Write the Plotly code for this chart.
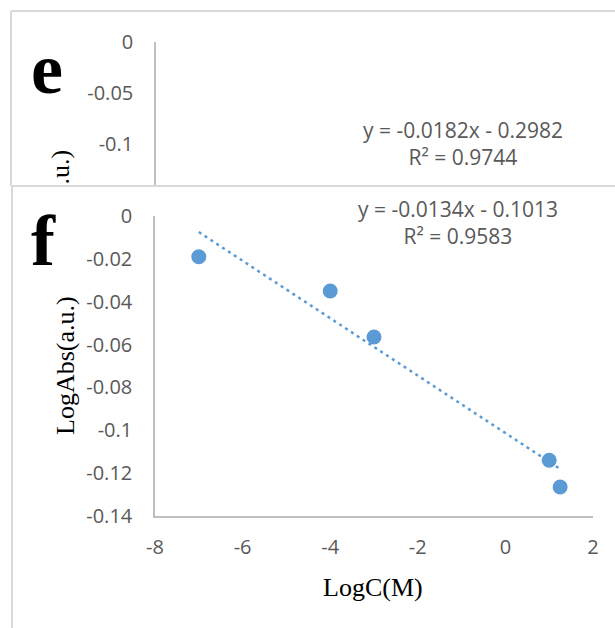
import plotly.graph_objects as go

W, H = 615, 628

# Measured data (panel f)
log_c = [-7, -4, -3, 1, 1.25]
log_abs = [-0.019, -0.035, -0.0565, -0.114, -0.1265]

# Linear fit reported for each panel
fit_f = {"slope": -0.0134, "intercept": -0.1013, "r2": 0.9583}
fit_e = {"slope": -0.0182, "intercept": -0.2982, "r2": 0.9744}

x_ticks = [-8, -6, -4, -2, 0, 2]
y_ticks_f = [0, -0.02, -0.04, -0.06, -0.08, -0.1, -0.12, -0.14]
y_ticks_e = [0, -0.05, -0.1]


def px(x):
    return x / W


def py(y):
    return 1 - y / H


trend_x = [min(log_c), max(log_c)]
trend_y = [fit_f["slope"] * v + fit_f["intercept"] for v in trend_x]

blue = "#5B9BD5"
axis_gray = "#BFBFBF"
frame_gray = "#D9D9D9"
tick_font = dict(family="Open Sans", size=20, color="#595959")
serif = "Liberation Serif"
title_font = dict(family=serif, size=26, color="black")

fig = go.Figure()

fig.add_trace(go.Scatter(
    x=trend_x, y=trend_y, mode="lines",
    line=dict(color=blue, width=2.5, dash="3px,4px"),
    showlegend=False, hoverinfo="skip",
))
fig.add_trace(go.Scatter(
    x=log_c, y=log_abs, mode="markers",
    marker=dict(color=blue, size=15),
    showlegend=False,
))
# empty trace so the panel e axes get drawn
fig.add_trace(go.Scatter(x=[], y=[], xaxis="x2", yaxis="y2", showlegend=False))

fig.update_layout(
    template="none",
    width=W, height=H,
    margin=dict(l=0, r=0, t=0, b=0, autoexpand=False),
    paper_bgcolor="white", plot_bgcolor="rgba(0,0,0,0)",
    showlegend=False,
    xaxis=dict(
        domain=[px(155), px(593)], range=[-8, 2], automargin=False,
        tickvals=x_ticks, ticktext=[str(v) for v in x_ticks],
        showgrid=False, zeroline=False, showline=True,
        linecolor=axis_gray, linewidth=2, ticks="",
        tickfont=tick_font, ticklabelstandoff=12, anchor="y",
    ),
    yaxis=dict(
        domain=[py(516), py(216)], range=[-0.14, 0], automargin=False,
        tickvals=y_ticks_f, ticktext=[f"{v:g}" for v in y_ticks_f],
        showgrid=False, zeroline=False, showline=True,
        linecolor=axis_gray, linewidth=1.5, ticks="",
        tickfont=tick_font, ticklabelstandoff=17, anchor="x",
    ),
    # partially visible panel e above
    xaxis2=dict(domain=[px(156), px(615)], range=[0, 1], visible=False,
                anchor="y2", automargin=False),
    yaxis2=dict(
        domain=[py(185), py(42)], range=[-0.1405, 0], automargin=False,
        tickvals=y_ticks_e, ticktext=[f"{v:g}" for v in y_ticks_e],
        showgrid=False, zeroline=False, showline=True,
        linecolor=axis_gray, linewidth=1.5, ticks="",
        tickfont=tick_font, ticklabelstandoff=17, anchor="x2",
    ),
)

# panel frames
frame = dict(type="line", xref="paper", yref="paper", line=dict(color=frame_gray, width=2))
fig.add_shape(**frame, x0=px(11), x1=1, y0=py(11), y1=py(11))
fig.add_shape(**frame, x0=px(11), x1=px(11), y0=py(11), y1=py(186))
fig.add_shape(**frame, x0=px(12), x1=1, y0=py(186), y1=py(186))
fig.add_shape(**frame, x0=px(12), x1=px(12), y0=py(186), y1=0)

eq_font = dict(family="Open Sans", size=21, color="#595959")


def eq_text(fit):
    sign = "-" if fit["intercept"] < 0 else "+"
    return (f"y = {fit['slope']:.4f}x {sign} {abs(fit['intercept']):.4f}<br>"
            f"R² = {fit['r2']:.4f}")


def note(x, y, text, font, **kw):
    opts = dict(xanchor="center", yanchor="middle")
    opts.update(kw)
    fig.add_annotation(x=px(x), y=py(y), xref="paper", yref="paper", text=text,
                       showarrow=False, font=font, **opts)


note(463, 144, eq_text(fit_e), eq_font, align="center")
note(458, 223, eq_text(fit_f), eq_font, align="center")

# panel letters
letter_font = dict(family=serif, size=72, color="black", weight="bold")
note(29, 69, "e", letter_font, xanchor="left")
note(29, 241, "f", letter_font, xanchor="left")

# axis titles
note(373, 587, "LogC(M)", title_font)
note(65, 366, "LogAbs(a.u.)", title_font, textangle=-90)

# tail of panel e's axis title, cut by panel f
note(60, 187, ".u.)", title_font, textangle=-90, yanchor="bottom")

fig.write_html("out.html")
